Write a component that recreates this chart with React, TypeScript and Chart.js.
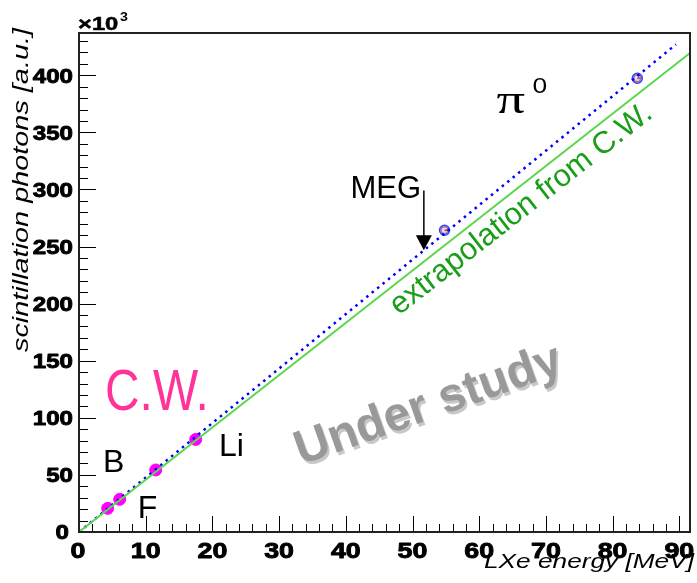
import React, { useEffect, useRef } from 'react';
import { Chart, registerables } from 'chart.js';
Chart.register(...registerables);

// ---------- data ----------
const xMin = 0;
const xMax = 91.6;
const yMin = 0;
const yMax = 437;
const xMajorStep = 10;
const xMinorStep = 2;
const yMajorStep = 50;
const yMinorStep = 10;

// Cockcroft-Walton calibration lines (B, F, B, Li)
const cwEnergy = [4.3, 6.1, 11.5, 17.5];
const cwPhotons = [20.7, 28.6, 54.3, 81.1];

// pi0 points
const pi0Energy = [54.8, 83.7];
const pi0Photons = [264.3, 397.4];

// lines
const cwFitX = [0, 91.6];
const cwFitY = [0, 419.5];
const pi0FitX = [0, 89.5];
const pi0FitY = [0, 427];

const toXY = (xs: number[], ys: number[]) => xs.map((x, i) => ({ x, y: ys[i] }));

// ---------- helpers ----------
function drawText(
  ctx: CanvasRenderingContext2D,
  text: string,
  x: number,
  y: number,
  font: string,
  color: string,
  align: CanvasTextAlign = 'left',
  baseline: CanvasTextBaseline = 'alphabetic',
  rotate = 0,
  sx = 1,
  sy = 1,
  stroke = 0
) {
  ctx.save();
  ctx.translate(x, y);
  ctx.rotate(rotate);
  ctx.scale(sx, sy);
  ctx.font = font;
  ctx.fillStyle = color;
  ctx.textAlign = align;
  ctx.textBaseline = baseline;
  ctx.fillText(text, 0, 0);
  if (stroke > 0) {
    ctx.strokeStyle = color;
    ctx.lineWidth = stroke;
    ctx.lineJoin = 'round';
    ctx.strokeText(text, 0, 0);
  }
  ctx.restore();
}

function measure(ctx: CanvasRenderingContext2D, text: string, font: string) {
  ctx.save();
  ctx.font = font;
  const w = ctx.measureText(text).width;
  ctx.restore();
  return w;
}

const rootPlugin = {
  id: 'rootStyle',
  beforeDatasetsDraw(chart: any) {
    const { ctx, chartArea: a, scales } = chart;
    const xs = scales.x;
    const ys = scales.y;
    ctx.save();
    ctx.strokeStyle = '#000';
    ctx.lineWidth = 1;
    for (let v = xMin; v <= xMax + 1e-9; v += xMinorStep) {
      const r = v / xMajorStep;
      const major = Math.abs(r - Math.round(r)) < 1e-6;
      const px = Math.round(xs.getPixelForValue(v)) + 0.5;
      ctx.beginPath();
      ctx.moveTo(px, a.bottom);
      ctx.lineTo(px, a.bottom - (major ? 16 : 8));
      ctx.stroke();
    }
    for (let v = yMin; v <= yMax + 1e-9; v += yMinorStep) {
      const r = v / yMajorStep;
      const major = Math.abs(r - Math.round(r)) < 1e-6;
      const py = Math.round(ys.getPixelForValue(v)) + 0.5;
      ctx.beginPath();
      ctx.moveTo(a.left, py);
      ctx.lineTo(a.left + (major ? 17 : 9), py);
      ctx.stroke();
    }
    ctx.restore();
  },
  afterDraw(chart: any) {
    const { ctx, chartArea: a, scales } = chart;
    const xs = scales.x;
    const ys = scales.y;
    const X = (v: number) => xs.getPixelForValue(v);
    const Y = (v: number) => ys.getPixelForValue(v);

    // frame
    ctx.save();
    ctx.strokeStyle = '#222';
    ctx.lineWidth = 2;
    ctx.strokeRect(a.left, a.top, a.right - a.left, a.bottom - a.top);
    ctx.restore();

    // tick labels from the library's generated ticks
    const xf = 'bold 22px "Liberation Sans"';
    for (const t of xs.ticks) {
      const px = xs.getPixelForValue(t.value);
      const lbl = String(t.label);
      const off = t.value === 0 ? -1 : 0;
      drawText(ctx, lbl, px + off, a.bottom + 26, xf, '#000', 'center', 'alphabetic', 0, 1.22, 1, 0.9);
    }
    const yf = 'bold 21px "Liberation Sans"';
    for (const t of ys.ticks) {
      const py = ys.getPixelForValue(t.value);
      const lbl = String(t.label);
      if (t.value === 0) {
        drawText(ctx, lbl, a.left - 10, py + 7, yf, '#000', 'right', 'alphabetic', 0, 1.15, 1, 0.9);
      } else {
        drawText(ctx, lbl, a.left - 6, py + 7.5, yf, '#000', 'right', 'alphabetic', 0, 1.15, 1, 0.9);
      }
    }

    // axis titles
    const ytFont = 'italic 22px "Liberation Sans"';
    const yt = 'scintillation photons [a.u.]';
    const ytw = measure(ctx, yt, ytFont);
    drawText(ctx, yt, 28, 28, ytFont, '#000', 'right', 'alphabetic', -Math.PI / 2, 324 / ytw, 1);

    const xtFont = 'italic 21px "Liberation Sans"';
    const xt = 'LXe energy [MeV]';
    const xtw = measure(ctx, xt, xtFont);
    drawText(ctx, xt, 694, 568, xtFont, '#000', 'right', 'alphabetic', 0, 210 / xtw, 1);

    // x10^3
    drawText(ctx, '\u00d710', a.left - 1, a.top - 3, 'bold 18px "Liberation Sans"', '#000', 'left', 'alphabetic', 0, 1.32, 1, 0.5);
    drawText(ctx, '3', a.left + 41, a.top - 12, 'bold 13px "Liberation Sans"', '#000', 'left', 'alphabetic', 0, 1.1, 1);

    // annotations
    drawText(ctx, '\u03c0', X(62.6), Y(366.7), '42px "Liberation Serif"', '#000', 'left', 'alphabetic', 0, 1.35, 1);
    drawText(ctx, '0', X(68.0), Y(384.5), '22px "Liberation Sans"', '#000', 'left', 'alphabetic', 0, 1.2, 1);

    drawText(ctx, 'MEG', X(40.7), Y(292.3), '31px "Liberation Sans"', '#000');
    // arrow
    const ax = X(51.7);
    const ay0 = Y(299);
    const ay1 = Y(246.8);
    ctx.save();
    ctx.strokeStyle = '#000';
    ctx.fillStyle = '#000';
    ctx.lineWidth = 1.5;
    ctx.beginPath();
    ctx.moveTo(ax, ay0);
    ctx.lineTo(ax, ay1 - 14);
    ctx.stroke();
    ctx.beginPath();
    ctx.moveTo(ax - 8, ay1 - 15);
    ctx.lineTo(ax + 8, ay1 - 15);
    ctx.lineTo(ax, ay1);
    ctx.closePath();
    ctx.fill();
    ctx.restore();

    drawText(ctx, 'extrapolation from C.W.', X(66.3), Y(282.5), '31px "Liberation Sans"', '#1a9e1a', 'center', 'middle', -38 * Math.PI / 180);

    drawText(ctx, 'C.W.', X(3.9), Y(106.5), '57px "Liberation Sans"', '#ff3399', 'left', 'alphabetic', 0, 0.84, 1);
    drawText(ctx, 'B', X(3.6), Y(52.5), '32px "Liberation Sans"', '#000');
    drawText(ctx, 'F', X(8.8), Y(12.3), '32px "Liberation Sans"', '#000');
    drawText(ctx, 'Li', X(21.0), Y(66.5), '32px "Liberation Sans"', '#000');

    const ux = X(52.4);
    const uy = Y(110.5);
    const ang = -19.5 * Math.PI / 180;
    drawText(ctx, 'Under study', ux + 2, uy + 3, 'bold 48px "Liberation Sans"', '#c8c8c8', 'center', 'middle', ang);
    drawText(ctx, 'Under study', ux, uy, 'bold 48px "Liberation Sans"', '#999999', 'center', 'middle', ang);
  },
};

const App: React.FC = () => {
  const ref = useRef<HTMLCanvasElement>(null);
  useEffect(() => {
    if (!ref.current) return;
    const chart = new Chart(ref.current, {
      type: 'scatter',
      data: {
        datasets: [
          {
            label: 'C.W. extrapolation',
            data: toXY(cwFitX, cwFitY),
            showLine: true,
            borderColor: '#5cd64c',
            borderWidth: 2,
            pointRadius: 0,
          },
          {
            label: 'pi0 line',
            data: toXY(pi0FitX, pi0FitY),
            showLine: true,
            borderColor: '#0000ff',
            borderWidth: 2.5,
            borderDash: [2.5, 4.5],
            pointRadius: 0,
          },
          {
            label: 'C.W.',
            data: toXY(cwEnergy, cwPhotons),
            pointRadius: 6,
            backgroundColor: '#ff00ff',
            borderColor: '#ff00ff',
            borderWidth: 1,
          },
          {
            label: 'pi0 outer',
            data: toXY(pi0Energy, pi0Photons),
            pointRadius: 5,
            pointStyle: 'circle',
            backgroundColor: 'rgba(120,200,255,0.4)',
            borderColor: '#3344ff',
            borderWidth: 1.5,
          },
          {
            label: 'pi0 inner',
            data: toXY(pi0Energy, pi0Photons),
            pointRadius: 3.5,
            pointStyle: 'circle',
            backgroundColor: 'rgba(0,0,0,0)',
            borderColor: '#ff2222',
            borderWidth: 1.5,
          },
          {
            label: 'pi0 bar',
            data: toXY(pi0Energy, pi0Photons),
            pointRadius: 4,
            pointStyle: 'dash',
            borderColor: '#ff0000',
            borderWidth: 2,
          },
        ],
      },
      options: {
        responsive: false,
        animation: false,
        events: [],
        layout: { padding: { left: 0, top: 33, right: 6, bottom: 0 } },
        plugins: { legend: { display: false }, tooltip: { enabled: false } },
        scales: {
          x: {
            type: 'linear',
            min: xMin,
            max: xMax,
            grid: { display: false, drawTicks: false },
            border: { display: false },
            afterFit: (s: any) => {
              s.height = 51;
              s.paddingLeft = 0;
              s.paddingRight = 0;
            },
            ticks: {
              display: false,
              stepSize: xMajorStep,
              includeBounds: false,
              maxRotation: 0,
              autoSkip: false,
            },
          },
          y: {
            type: 'linear',
            min: yMin,
            max: yMax,
            grid: { display: false, drawTicks: false },
            border: { display: false },
            afterFit: (s: any) => {
              s.width = 79;
              s.paddingTop = 0;
              s.paddingBottom = 0;
            },
            ticks: {
              display: false,
              stepSize: yMajorStep,
              includeBounds: false,
              autoSkip: false,
            },
          },
        },
      } as any,
      plugins: [rootPlugin],
    });
    return () => chart.destroy();
  }, []);
  return (
    <div style={{ position: 'fixed', left: 0, top: 0, width: 697, height: 583, background: '#fff' }}>
      <canvas ref={ref} width={697} height={583} style={{ display: 'block' }} />
    </div>
  );
};

export default App;
